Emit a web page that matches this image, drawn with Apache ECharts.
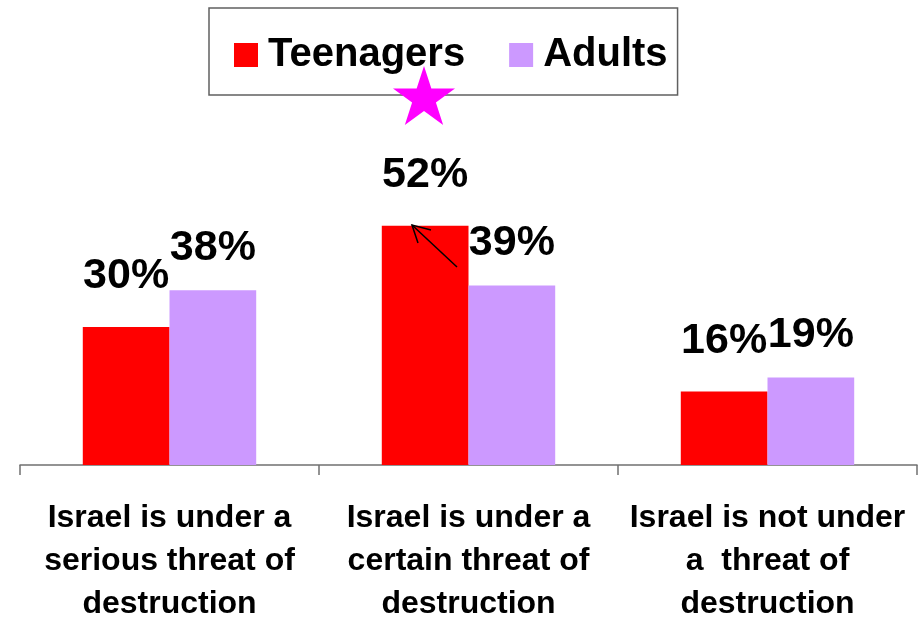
<!DOCTYPE html>
<html>
<head>
<meta charset="utf-8">
<script src="https://cdn.jsdelivr.net/npm/echarts@6/dist/echarts.min.js"></script>
<style>
html,body{margin:0;padding:0;background:#fff;}
#chart{width:924px;height:626px;}
</style>
</head>
<body>
<div id="chart"></div>
<script>
const categories = [
  'Israel is under a\nserious threat of\ndestruction',
  'Israel is under a\ncertain threat of\ndestruction',
  'Israel is not under\na  threat of\ndestruction'
];
const seriesNames = ['Teenagers', 'Adults'];
const teenagers = [30, 52, 16];
const adults = [38, 39, 19];

const FONT = '"Liberation Sans", Arial, Helvetica, sans-serif';
const chart = echarts.init(document.getElementById('chart'));

// star annotation points
function starPoints(cx, cy, R, r) {
  const pts = [];
  for (let i = 0; i < 10; i++) {
    const rad = i % 2 === 0 ? R : r;
    const a = -Math.PI / 2 + i * Math.PI / 5;
    pts.push([cx + rad * Math.cos(a), cy + rad * Math.sin(a)]);
  }
  return pts;
}

const labelCommon = {
  show: true,
  position: 'top',
  formatter: '{c}%',
  color: '#000',
  fontFamily: FONT,
  fontWeight: 'bold',
  fontSize: 43,
  lineHeight: 43
};

chart.setOption({
  animation: false,
  backgroundColor: '#fff',
  legend: {
    data: seriesNames,
    left: 209,
    top: 8,
    orient: 'horizontal',
    padding: [26, 10, 19, 25],
    itemGap: 44,
    itemWidth: 24,
    itemHeight: 24,
    icon: 'rect',
    borderColor: '#606060',
    borderWidth: 1.5,
    textStyle: {
      color: '#000',
      fontFamily: FONT,
      fontWeight: 'bold',
      fontSize: 40,
      lineHeight: 40,
      padding: [2, 0, 0, 5]
    }
  },
  grid: { left: 20, right: 7, top: 97, bottom: 156, containLabel: false },
  xAxis: {
    type: 'category',
    data: categories,
    axisLine: { lineStyle: { color: '#707070', width: 1.5 } },
    axisTick: { show: true, length: 10, lineStyle: { color: '#707070', width: 1.5 } },
    axisLabel: {
      interval: 0,
      margin: 32,
      color: '#000',
      fontFamily: FONT,
      fontWeight: 'bold',
      fontSize: 32,
      lineHeight: 43,
      align: 'center'
    }
  },
  yAxis: {
    type: 'value',
    min: 0,
    max: 80,
    show: false,
    splitLine: { show: false }
  },
  series: [
    {
      name: seriesNames[0],
      type: 'bar',
      data: teenagers,
      barGap: '0%',
      barCategoryGap: '42%',
      itemStyle: { color: '#FF0000' },
      label: Object.assign({}, labelCommon, { distance: 29 })
    },
    {
      name: seriesNames[1],
      type: 'bar',
      data: adults,
      barGap: '0%',
      barCategoryGap: '42%',
      itemStyle: { color: '#CC99FF' },
      label: Object.assign({}, labelCommon, { distance: 21 })
    }
  ],
  graphic: [
    {
      type: 'polygon',
      shape: { points: starPoints(424, 98.6, 32.6, 12.5) },
      style: { fill: '#FF00FF' },
      z: 100
    },
    {
      type: 'line',
      shape: { x1: 457, y1: 267, x2: 412, y2: 225 },
      style: { stroke: '#000', lineWidth: 1.5 },
      z: 100
    },
    {
      type: 'polyline',
      shape: { points: [[431, 230], [412, 225], [418, 243]] },
      style: { stroke: '#000', lineWidth: 1.5, fill: null },
      z: 100
    }
  ]
});
</script>
</body>
</html>
